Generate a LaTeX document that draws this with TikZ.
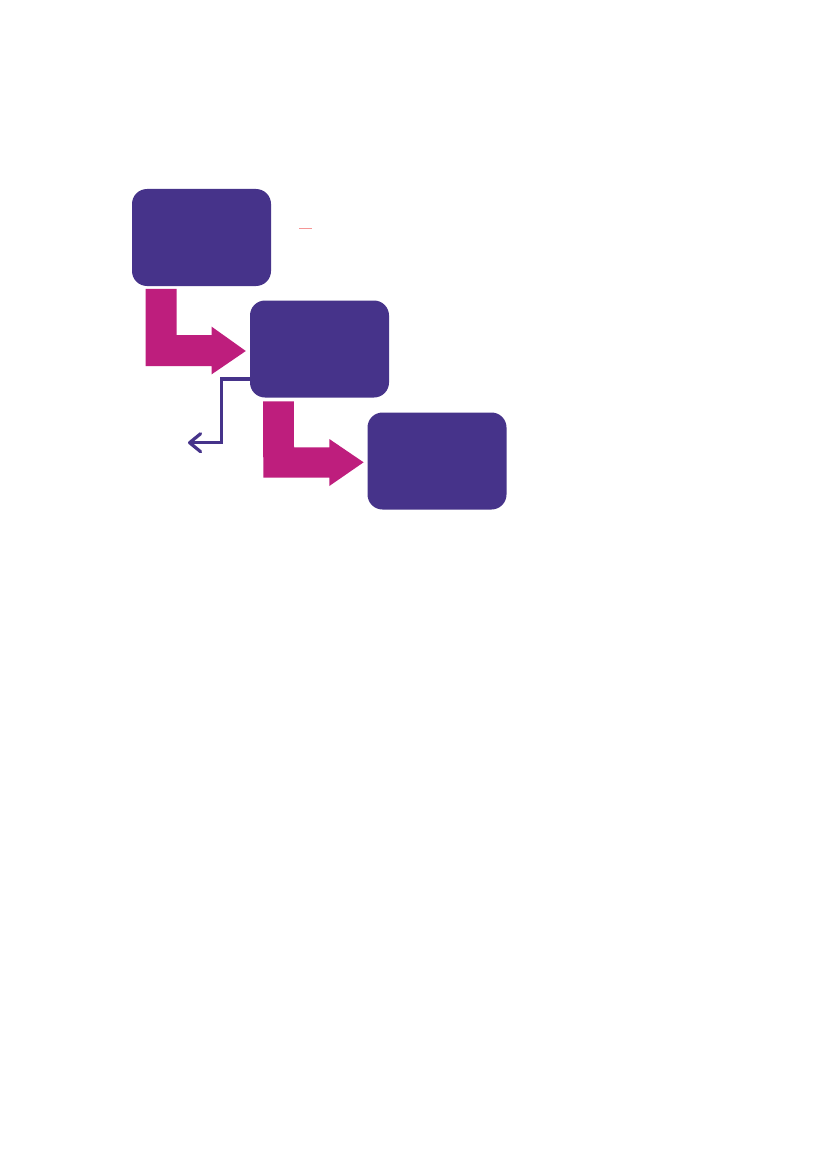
\documentclass[tikz,border=0pt]{standalone}
\usetikzlibrary{arrows.meta,calc}
\definecolor{boxpurple}{RGB}{70,51,138}
\definecolor{arrowpink}{RGB}{190,30,125}
\definecolor{strayred}{RGB}{245,150,150}
\tikzset{
  stagebox/.style={fill=boxpurple, draw=none, rounded corners=15pt, minimum width=139pt, minimum height=97pt, inner sep=0pt},
  blockarrow/.style={fill=arrowpink, draw=none},
  sideline/.style={draw=boxpurple, line width=3.2pt, line cap=round, -{Straight Barb[length=11pt,width=18pt,round]}}
}
\begin{document}
\begin{tikzpicture}[x=1pt,y=-1pt]
\useasboundingbox (0,0) rectangle (827,1169);
\fill[white] (0,0) rectangle (827,1169);
\node[stagebox] (b1) at (201.5,237.5) {};
\node[stagebox] (b2) at (319.5,349) {};
\node[stagebox] (b3) at (437,461) {};
% pink block arrows from box to box
\fill[blockarrow] ($(b1.south west)+(13.7,2.7)$) -- ++(31,0) -- (176.7,335) -- (211.7,335) -- (211.7,326.7) -- ($(b2.west |- 0,351)+(-4,0)$) -- (211.7,374.3) -- (211.7,366) -- (145.7,366) -- cycle;
\fill[blockarrow] ($(b2.south west)+(13.3,3.7)$) -- ++(30.7,0) -- (294,447.3) -- (329.3,447.3) -- (329.3,439) -- ($(b3.west |- 0,462.3)+(-3.7,0)$) -- (329.3,486) -- (329.3,477.7) -- (263.3,477.7) -- cycle;
% side connector
\coordinate (out) at (188,442.7);
\draw[sideline] ($(b2.west)+(1,30)$) -| (221.7,442.7) -- (out);
% stray mark
\draw[strayred, line width=0.8pt] (299,228) -- (312,228);
\end{tikzpicture}
\end{document}
